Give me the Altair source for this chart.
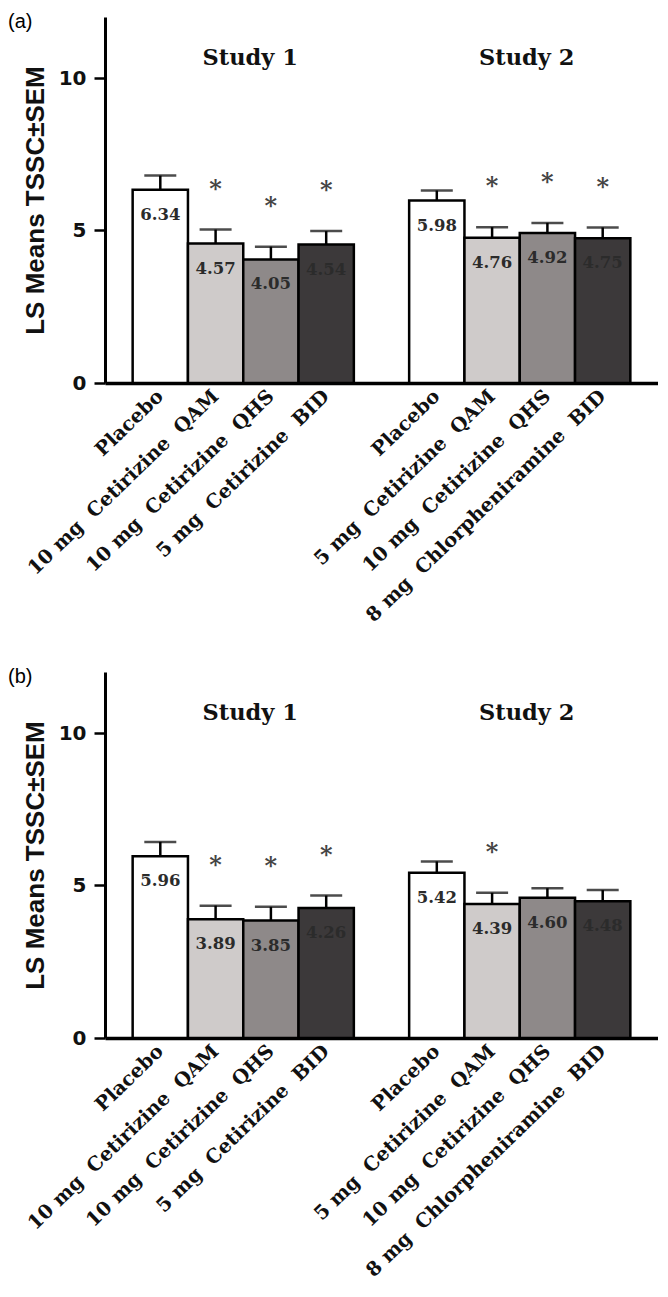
import altair as alt
import pandas as pd

# ---------------- data ----------------
studies = ["Study 1", "Study 2"]
NB = "\u00a0"
labels_s1 = ["Placebo",
             f"10 mg{NB} Cetirizine{NB} QAM",
             f"10 mg{NB} Cetirizine{NB} QHS",
             f"5 mg{NB} Cetirizine{NB} BID"]
labels_s2 = ["Placebo",
             f"5 mg{NB} Cetirizine{NB} QAM",
             f"10 mg{NB} Cetirizine{NB} QHS",
             f"8 mg{NB} Chlorpheniramine{NB} BID"]
bar_colors = ["#ffffff", "#cfcbca", "#8e8989", "#3c393a"]
y_ticks = [0, 5, 10]

# panel (a)
a_s1_mean = [6.34, 4.57, 4.05, 4.54]
a_s1_sem = [0.46, 0.46, 0.42, 0.44]
a_s1_sig = [False, True, True, True]
a_s2_mean = [5.98, 4.76, 4.92, 4.75]
a_s2_sem = [0.33, 0.35, 0.33, 0.35]
a_s2_sig = [False, True, True, True]

# panel (b)
b_s1_mean = [5.96, 3.89, 3.85, 4.26]
b_s1_sem = [0.47, 0.45, 0.45, 0.41]
b_s1_sig = [False, True, True, True]
b_s2_mean = [5.42, 4.39, 4.60, 4.48]
b_s2_sem = [0.37, 0.37, 0.31, 0.37]
b_s2_sig = [False, True, False, False]

keys_s1 = [f"s1_{i}" for i in range(4)]
keys_s2 = [f"s2_{i}" for i in range(4)]
x_domain = keys_s1 + ["gap"] + keys_s2
label_map = dict(zip(keys_s1 + keys_s2, labels_s1 + labels_s2))
label_expr = " : ".join(f"datum.value == '{k}' ? '{v}'" for k, v in label_map.items()) + " : ''"


def panel(letter, s1m, s1e, s1s, s2m, s2e, s2s):
    df = pd.DataFrame({
        "key": keys_s1 + keys_s2,
        "study": [studies[0]] * 4 + [studies[1]] * 4,
        "dose": [0, 1, 2, 3] * 2,
        "mean": s1m + s2m,
        "sem": s1e + s2e,
        "sig": s1s + s2s,
    })
    df["label"] = df["mean"].map(lambda v: f"{v:.2f}")

    xs = alt.Scale(domain=x_domain, paddingInner=0, paddingOuter=0.5)
    x = alt.X("key:N", scale=xs, title=None,
              axis=alt.Axis(labelExpr=label_expr, labelAngle=-44, ticks=False,
                            labelAlign="right", labelBaseline="middle",
                            labelFont="DejaVu Serif", labelFontWeight="bold",
                            labelFontSize=19.5, labelColor="#111", labelPadding=10,
                            labelLimit=500, labelOverlap=False,
                            domainColor="black", domainWidth=3.5))
    ys = alt.Scale(domain=[0, 12], nice=False)
    y = alt.Y("mean:Q", scale=ys, title="LS Means TSSC\u00b1SEM",
              axis=alt.Axis(values=y_ticks, grid=False, domainColor="black",
                            domainWidth=3, tickColor="black", tickWidth=2.5,
                            tickSize=11, labelFont="DejaVu Sans",
                            labelFontWeight="bold", labelFontSize=20,
                            labelColor="#111", labelPadding=8,
                            titleFont="Liberation Sans", titleFontSize=26,
                            titleFontWeight="bold", titleColor="#111",
                            titlePadding=10))

    base = alt.Chart(df).transform_calculate(top="datum.mean + datum.sem")
    bars = base.mark_bar(stroke="black", strokeWidth=2.5).encode(
        x=x, y=y,
        color=alt.Color("dose:O", scale=alt.Scale(domain=[0, 1, 2, 3], range=bar_colors),
                        legend=None))
    err = base.mark_rule(color="black", strokeWidth=2.5).encode(
        x=alt.X("key:N"), y=alt.Y("mean:Q"), y2="top:Q")
    cap = base.mark_tick(color="black", thickness=2.5, size=32, orient="horizontal").encode(
        x=alt.X("key:N"), y=alt.Y("top:Q"))
    vals = base.mark_text(font="DejaVu Serif", fontWeight="bold", fontSize=16.5,
                          color="#2b2b2b", dy=25, baseline="middle").encode(
        x=alt.X("key:N"), y=alt.Y("mean:Q"), text="label:N")
    stars = base.transform_filter("datum.sig").transform_calculate(
        star_y="datum.top + 1.3").mark_text(
        text="*", font="DejaVu Serif", fontWeight="bold", fontSize=24,
        color="#444", baseline="middle").encode(
        x=alt.X("key:N"), y=alt.Y("star_y:Q"))

    tdf = pd.DataFrame({"key": [keys_s1[1], keys_s2[1]], "study": studies})
    titles = alt.Chart(tdf).mark_text(font="DejaVu Serif", fontWeight="bold",
                                       fontSize=22.5, color="#111", baseline="middle",
                                       dx=7).encode(
        x=alt.X("key:N", bandPosition=1), y=alt.datum(10.65), text="study:N")

    ldf = pd.DataFrame({"t": [letter]})
    letter_mark = alt.Chart(ldf).mark_text(font="Liberation Sans", fontSize=20,
                                           align="left", baseline="middle",
                                           color="black").encode(
        x=alt.value(-97), y=alt.value(5), text="t:N")

    return alt.layer(bars, err, cap, vals, stars, titles, letter_mark).properties(
        width=553, height=366)


pa = panel("(a)", a_s1_mean, a_s1_sem, a_s1_sig, a_s2_mean, a_s2_sem, a_s2_sig)
pb = panel("(b)", b_s1_mean, b_s1_sem, b_s1_sig, b_s2_mean, b_s2_sem, b_s2_sig)

chart = alt.vconcat(pa, pb, spacing=42).properties(
    padding={"left": 0, "top": 4, "right": 0, "bottom": 2}
).configure_view(stroke=None)

chart.save("out.html", embed_options={"renderer": "svg", "actions": False})
